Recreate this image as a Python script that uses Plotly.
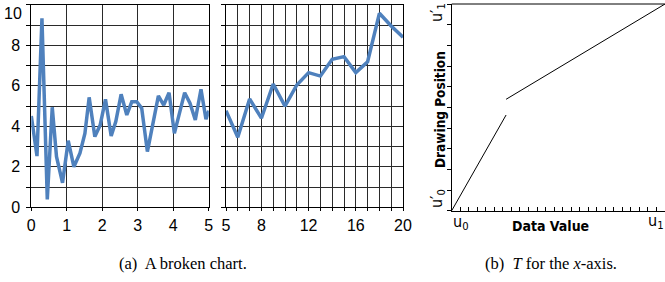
import plotly.graph_objects as go

W, H = 665, 282

# ---- data ----
left_x = [0.0, 0.16, 0.30, 0.45, 0.59, 0.71, 0.88, 1.04, 1.20, 1.37, 1.51, 1.63, 1.79, 1.94,
          2.09, 2.25, 2.38, 2.53, 2.69, 2.83, 2.97, 3.11, 3.27, 3.42, 3.58, 3.73, 3.88, 4.03,
          4.17, 4.32, 4.47, 4.62, 4.78, 4.92, 5.0]
left_y = [4.51, 2.53, 9.33, 0.39, 4.94, 2.50, 1.21, 3.29, 2.00, 2.67, 3.65, 5.43, 3.49, 4.06,
          5.33, 3.52, 4.23, 5.58, 4.56, 5.21, 5.21, 4.89, 2.75, 4.15, 5.50, 5.05, 5.66, 3.65,
          4.56, 5.66, 5.14, 4.31, 5.83, 4.35, 4.77]

mid_x = [5, 6, 7, 8, 9, 10, 11, 12, 13, 14, 15, 16, 17, 18, 19, 20]
mid_y = [4.77, 3.46, 5.35, 4.40, 6.09, 5.00, 6.04, 6.65, 6.48, 7.31, 7.44, 6.65, 7.19, 9.58, 8.95, 8.40]

left_ticks = [0, 1, 2, 3, 4, 5]
y_ticks = [0, 2, 4, 6, 8]
y_top_label = "10"
mid_ticks = [5, 8, 12, 16, 20]

t_x = [0.0, 0.255, None, 0.255, 1.0]
t_y = [0.0, 0.463, None, 0.539, 1.0]

LINE_BLUE = "#4F81BD"
GRID = "#2a2a2a"
SANS = "Liberation Sans, Arial, sans-serif"
COND = "Liberation Sans Narrow, DejaVu Sans Condensed, DejaVu Sans, sans-serif"
SERIF = "Liberation Serif, Times New Roman, serif"

def px(x):
    return x / W

def py(y):
    return (H - y) / H

fig = go.Figure()
fig.add_trace(go.Scatter(x=left_x, y=left_y, mode="lines", line=dict(color=LINE_BLUE, width=3.5),
                         xaxis="x", yaxis="y", showlegend=False))
fig.add_trace(go.Scatter(x=mid_x, y=mid_y, mode="lines", line=dict(color=LINE_BLUE, width=3.5),
                         xaxis="x2", yaxis="y2", showlegend=False))
fig.add_trace(go.Scatter(x=t_x, y=t_y, mode="lines", line=dict(color="black", width=1),
                         xaxis="x3", yaxis="y3", showlegend=False, connectgaps=False))

ydom = [py(207.3), py(4.8)]
base_axis = dict(showline=True, linecolor="black", linewidth=1, mirror=True,
                 gridcolor=GRID, gridwidth=1, zeroline=False, ticks="outside",
                 tickcolor="black", automargin=False,
                 tickfont=dict(family=SANS, size=16, color="black"))

fig.update_layout(
    width=W, height=H, margin=dict(l=0, r=0, t=0, b=0, autoexpand=False),
    paper_bgcolor="white", plot_bgcolor="white",
    xaxis=dict(domain=[px(31.3), px(208.8)], range=[0, 5], tickvals=left_ticks,
               showgrid=True, anchor="y", ticklen=3, **base_axis),
    yaxis=dict(domain=ydom, range=[0, 10], tickvals=y_ticks, showgrid=True, anchor="x",
               ticklen=4, ticklabelstandoff=3,
               minor=dict(dtick=1, showgrid=True, gridcolor=GRID, ticks="outside", ticklen=4,
                          tickcolor="black"),
               **base_axis),
    xaxis2=dict(domain=[px(226), px(403)], range=[5, 20], tickvals=mid_ticks, showgrid=True,
                anchor="y2", ticklen=3,
                minor=dict(dtick=1, tick0=0, showgrid=True, gridcolor=GRID, ticks="outside",
                           ticklen=3, tickcolor="black"),
                **base_axis),
    yaxis2=dict(domain=ydom, range=[0, 10], tickvals=y_ticks + [10], showgrid=True, anchor="x2",
                showticklabels=False, ticklen=4,
                minor=dict(dtick=1, showgrid=True, gridcolor=GRID, ticks="outside", ticklen=4,
                           tickcolor="black"),
                **base_axis),
    xaxis3=dict(domain=[px(451.7), 1.0], range=[0, 1], anchor="y3", showline=True,
                linecolor="black", linewidth=1, showgrid=False, zeroline=False, automargin=False,
                ticks="inside", dtick=0.04, ticklen=4, tickcolor="black", showticklabels=False),
    yaxis3=dict(domain=[py(210.7), py(4)], range=[0, 1], anchor="x3", showline=True,
                linecolor="black", linewidth=1, showgrid=False, zeroline=False, automargin=False,
                ticks="outside", dtick=0.1, ticklen=4, tickcolor="black", showticklabels=False),
)

# top frame line of the T panel
fig.add_shape(type="line", xref="x3 domain", yref="y3 domain", x0=0, x1=1, y0=1, y1=1,
              line=dict(color="black", width=1))

cond_font = dict(family=COND, size=16, color="black")
ann = [
    dict(text=y_top_label, x=px(23.5), y=py(14), xanchor="right",
         font=dict(family=SANS, size=16, color="black")),
    dict(text="u′<sub>1</sub>", x=px(437), y=py(13), textangle=-90, font=cond_font),
    dict(text="u′<sub>0</sub>", x=px(437), y=py(199), textangle=-90, font=cond_font),
    dict(text="u<sub>0</sub>", x=px(461), y=py(222), font=cond_font),
    dict(text="u<sub>1</sub>", x=px(656), y=py(221), font=cond_font),
    dict(text="Drawing Position", x=px(440), y=py(110), textangle=-90,
         font=dict(family=COND, size=13.5, color="black", weight="bold")),
    dict(text="Data Value", x=px(550), y=py(226),
         font=dict(family=COND, size=14, color="black", weight="bold")),
    dict(text="(a)  A broken chart.", x=px(183), y=py(263),
         font=dict(family=SERIF, size=16.5, color="black")),
    dict(text="(b)  <i>T</i> for the <i>x</i>-axis.", x=px(551), y=py(263),
         font=dict(family=SERIF, size=16.5, color="black")),
]
for a in ann:
    a.setdefault("xanchor", "center")
    fig.add_annotation(xref="paper", yref="paper", showarrow=False,
                       yanchor="middle", **a)

fig.write_html("out.html", config={"displayModeBar": False},
               post_script="document.body.style.margin='0px';document.body.style.padding='0px';")
